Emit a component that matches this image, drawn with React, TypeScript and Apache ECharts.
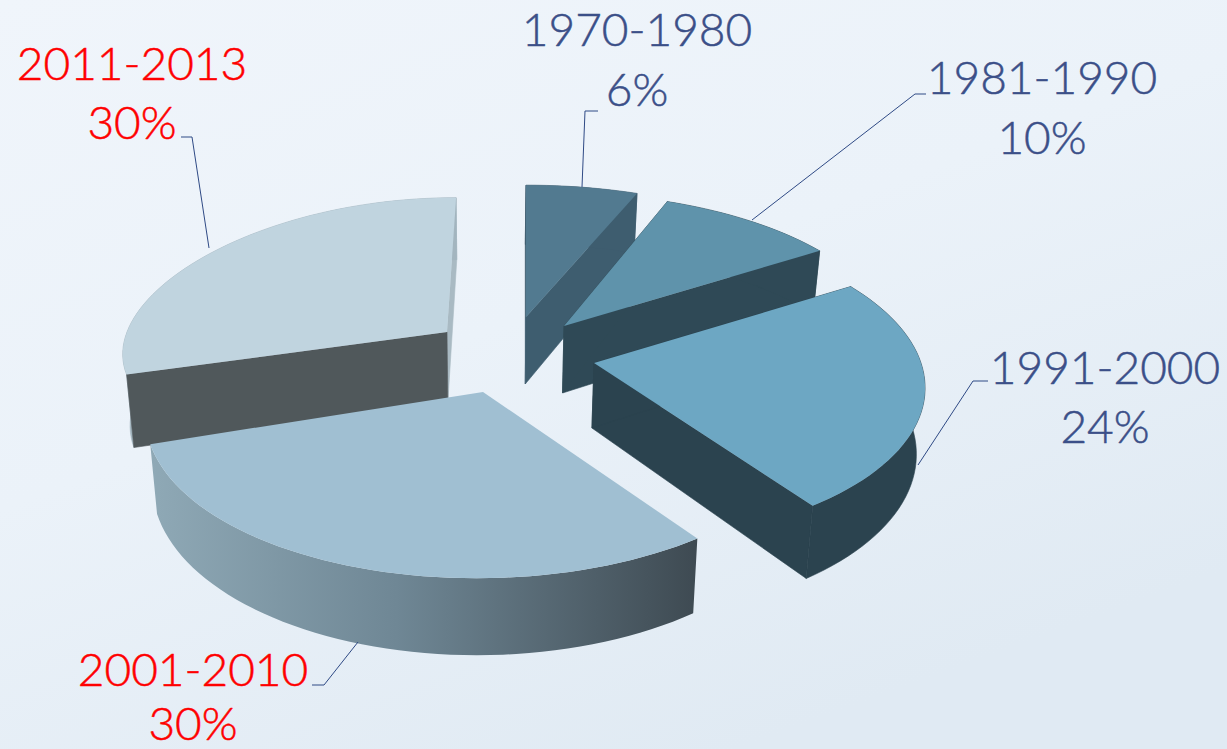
import React, { useEffect, useRef } from "react";
import * as echarts from "echarts";

const categories = ["1970-1980", "1981-1990", "1991-2000", "2001-2010", "2011-2013"];
const shares = [6, 10, 24, 30, 30];

// Drawing configuration (not data)
const VP_X = 526, BOTTOM_VP_X = 490, BOTTOM_SCALE = 0.98, PX = 0.13;
const geometry = [
  { ax: 526, ay: 317, rx: 338, ry: 149, py: 0.13, z: 1, depth: 67, tilt: 0 },
  { ax: 564, ay: 326, rx: 327, ry: 150, py: 0.13, z: 2, depth: 67, tilt: 0 },
  { ax: 594, ay: 363, rx: 327, ry: 156, py: 0.13, z: 3, depth: 65, tilt: 0.015 },
  { ax: 483, ay: 392, rx: 334, ry: 162, py: 0.13, z: 5, depth: 67, tilt: 0 },
  { ax: 447, ay: 332, rx: 320, ry: 137, py: 0.02, z: 4, depth: 70, tilt: 0 },
];
const gradientWall = () =>
  new echarts.graphic.LinearGradient(0, 0, 1, 0, [
    { offset: 0, color: "#8fa9b6" },
    { offset: 0.45, color: "#6f8795" },
    { offset: 1, color: "#3e4a52" },
  ]);
const palette: any[] = [
  { top: "#527a90", start: "#3e5d6f", end: "#3e5d6f", outer: "#3e5d6f" },
  { top: "#5f93ab", start: "#2f4956", end: "#2f4956", outer: "#2f4956" },
  { top: "#6da7c3", start: "#2b434f", end: "#2b434f", outer: "#2b434f" },
  { top: "#a0bfd2", start: null, end: null, outer: null },
  { top: "#c0d4df", start: "#50585b", end: "#a9bac3", outer: "#a3b5bf" },
];
const labelColors = ["#3b4f88", "#3b4f88", "#3b4f88", "#ff0000", "#ff0000"];
const labelAt = [
  [637, 28, 88], [1042, 76, 136], [1105, 366, 425], [193, 668, 722], [132, 62, 121],
];
const leaders = [
  [[582, 187], [585, 111], [598, 111]],
  [[752, 220], [915, 94], [926, 94]],
  [[918, 465], [973, 381], [988, 381]],
  [[358, 642], [324, 685], [312, 685]],
  [[209, 248], [192, 137], [181, 137]],
];

function project(g: any, theta: number, r = 1) {
  const u = Math.sin(theta) * r;
  const v = -Math.cos(theta) * r;
  const w = 1 / (1 - PX * v);
  const wy = 1 / (1 - g.py * v);
  return {
    x: VP_X + (g.ax - VP_X) * w + u * g.rx * w,
    y: g.ay + v * g.ry * wy,
    w,
  };
}
function lower(p: { x: number; y: number; w: number }, depth: number) {
  return [BOTTOM_VP_X + (p.x - BOTTOM_VP_X) * BOTTOM_SCALE, p.y + depth * p.w];
}

const total = shares.reduce((a, b) => a + b, 0);

function renderItem(params: any) {
  const i = params.dataIndex;
  const g = geometry[i];
  const c = palette[i];
  const before = shares.slice(0, i).reduce((a, b) => a + b, 0);
  const a0 = (before / total) * Math.PI * 2 + g.tilt;
  const a1 = ((before + shares[i]) / total) * Math.PI * 2 + g.tilt;
  const n = Math.max(4, Math.ceil(((a1 - a0) * 180) / Math.PI / 2));
  const arc: any[] = [];
  for (let k = 0; k <= n; k++) arc.push(project(g, a0 + ((a1 - a0) * k) / n));
  const apex = project(g, 0, 0);
  const top = arc.map((p) => [p.x, p.y]);
  const bot = arc.map((p) => lower(p, g.depth));
  const apexTop = [apex.x, apex.y];
  const apexBot = lower(apex, g.depth);
  const poly = (points: any[], fill: any, dz: number, stroke = false) => ({
    type: "polygon",
    z2: g.z * 10 + dz,
    shape: { points },
    style: { fill, stroke: stroke ? fill : "none", lineWidth: stroke ? 0.6 : 0 },
    silent: true,
  });
  const children: any[] = [];
  if (c.end) children.push(poly([apexTop, top[n], bot[n], apexBot], c.end, 0, true));
  children.push(poly([...top, ...bot.slice().reverse()], c.outer || gradientWall(), 1, !!c.outer));
  if (c.start) children.push(poly([apexTop, top[0], bot[0], apexBot], c.start, 2, true));
  children.push(poly([apexTop, ...top], c.top, 3));
  return { type: "group", children };
}

const textStyle = (text: string, i: number) => ({
  text,
  fill: labelColors[i],
  stroke: labelColors[i],
  lineWidth: 0.5,
  font: '300 46px Lato, "Open Sans", sans-serif',
  lineHeight: 44,
  align: "center",
  verticalAlign: "middle",
});

export default function App() {
  const ref = useRef<HTMLDivElement>(null);
  useEffect(() => {
    const chart = echarts.init(ref.current!, undefined, { renderer: "svg" });
    chart.setOption({
      animation: false,
      backgroundColor: new echarts.graphic.LinearGradient(0, 0, 0.6, 1, [
        { offset: 0, color: "#f0f5fb" },
        { offset: 0.5, color: "#ebf2f9" },
        { offset: 1, color: "#e0eaf3" },
      ]),
      series: [
        {
          type: "custom",
          coordinateSystem: "none",
          silent: true,
          renderItem,
          data: shares.map((v, i) => ({ name: categories[i], value: v })),
        },
      ],
      graphic: [
        ...leaders.map((pts) => ({
          type: "polyline",
          z: 5,
          shape: { points: pts },
          style: { stroke: "#2f4a85", lineWidth: 1, fill: "none" },
          silent: true,
        })),
        ...categories.map((name, i) => ({
          type: "text",
          z: 6,
          x: labelAt[i][0],
          y: labelAt[i][1],
          silent: true,
          style: textStyle(name, i),
        })),
        ...categories.map((_, i) => ({
          type: "text",
          z: 6,
          x: labelAt[i][0],
          y: labelAt[i][2],
          silent: true,
          style: textStyle(`${shares[i]}%`, i),
        })),
      ],
    });
    return () => chart.dispose();
  }, []);
  return <div ref={ref} style={{ position: "fixed", left: 0, top: 0, width: 1227, height: 749 }} />;
}
